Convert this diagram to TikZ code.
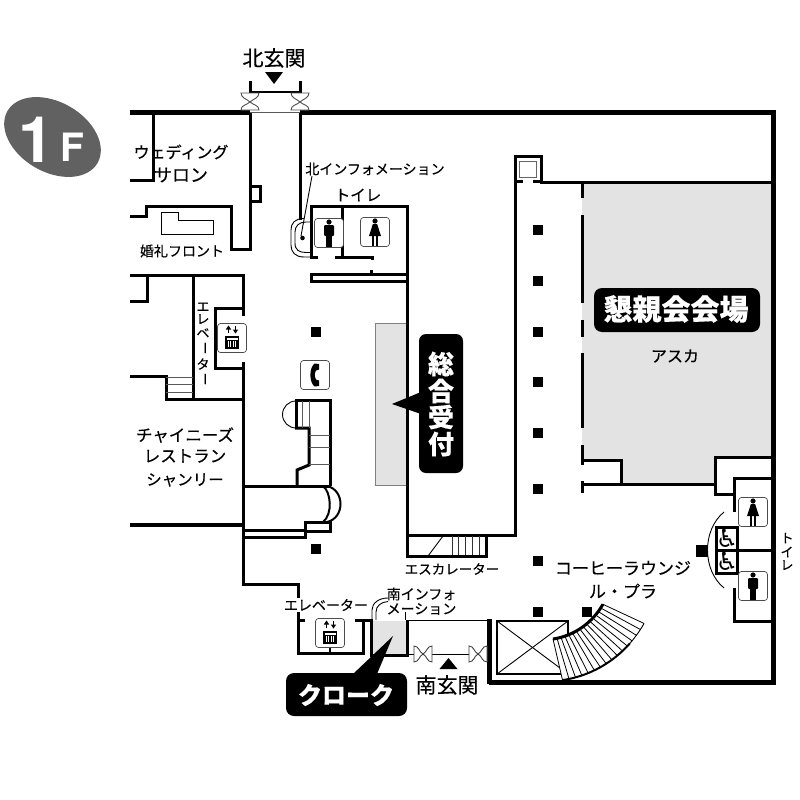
\documentclass[tikz,border=0pt]{standalone}
\usepackage{fontspec}
\setmainfont[FakeBold=0.35]{Noto Sans CJK JP}
\newfontfamily\bigfont{TeX Gyre Heros}
\newfontfamily\wcfont{DejaVu Sans}
\begin{document}
\begin{tikzpicture}[x=1pt,y=-1pt,
  wall/.style={line width=3pt,line cap=butt,line join=miter},
  fat/.style={line width=5pt,line cap=butt,line join=miter},
  thin/.style={line width=0.9pt},
  hair/.style={line width=0.7pt,draw=black!65},
  lbl/.style={inner sep=0pt,font=\fontsize{#1}{#1}\selectfont},
  wlbl/.style={inner sep=0pt,text=white,font=\fontsize{#1}{#1}\selectfont\bfseries},
  pillar/.style={fill=black,draw=none,minimum size=10pt,inner sep=0pt,shape=rectangle},
  iconbox/.style={draw=black!70,line width=0.7pt,fill=white,rounded corners=3pt,minimum size=29pt,inner sep=0pt,shape=rectangle},
  wc/.style={inner sep=0pt,font=\fontsize{25}{25}\selectfont\wcfont}]
\useasboundingbox (0,0) rectangle (800,800);
\fill[white] (0,0) rectangle (800,800);
% badge
\fill[black!62,rotate around={-30:(52.5,137)}] (52.5,137) ellipse [x radius=52,y radius=35];
\node[inner sep=0pt,text=white,font=\fontsize{64}{64}\selectfont\bigfont\bfseries] (bone) at (36,140) {1};
\node[inner sep=0pt,text=white,font=\fontsize{39}{39}\selectfont\bigfont\bfseries] (bf) at (72,147) {F};
% grey areas
\fill[black!11] (582,182) -- (773,182) -- (773,457) -- (716,457) -- (716,484) -- (621,484) -- (621,460) -- (582,460) -- cycle;
\filldraw[black!11,draw=black!50,line width=0.7pt] (407,323) -- (375,323) -- (375,485) -- (407,485);
\filldraw[black!11,draw=none] (371,621) rectangle (406,654);
% outer walls
\draw[fat] (130,112.5) -- (250,112.5);
\draw[fat] (300,112.5) -- (775,112.5);
\draw[fat] (773,110) -- (773,684.5);
\draw[fat] (489,682) -- (775,682);
\draw[fat] (489,619) -- (489,684);
% north entrance
\draw[wall] (250,81) -- (250,93);
\draw[wall] (300,81) -- (300,93);
\draw[line width=1.6pt] (250,92) -- (300,92);
\draw[hair] (250,112) -- (300,112);
\foreach \cx in {250,300}{
  \draw[thin,draw=black!70,fill=white] (\cx-9,93) -- (\cx+9,93) .. controls (\cx+9,98) and (\cx+3,99) .. (\cx,102) .. controls (\cx-3,99) and (\cx-9,98) .. (\cx-9,93) -- cycle;
  \draw[thin,draw=black!70,fill=white] (\cx-9,110) -- (\cx+9,110) .. controls (\cx+9,105) and (\cx+3,105) .. (\cx,102) .. controls (\cx-3,105) and (\cx-9,105) .. (\cx-9,110) -- cycle;
}
\fill (265,72) -- (283,72) -- (274,84) -- cycle;
\node[lbl=21] (kita) at (274,58) {北玄関};
% wedding area
\draw[wall] (153,113) -- (153,180) -- (130,180);
\draw[wall] (250,113) -- (250,249) -- (231,249) -- (231,206) -- (146,206) -- (146,216) -- (130,216);
\draw[wall] (250,186) -- (260,186) -- (260,201) -- (250,201);
\draw[thin] (161,212) -- (178,212) -- (178,220) -- (213,220) -- (213,234) -- (161,234) -- cycle;
\node[lbl=16] (wed1) at (181,152) {ウェディング};
\node[lbl=18] (wed2) at (181,175) {サロン};
\node[lbl=14] (front) at (182,251) {婚礼フロント};
% north toilets
\draw[wall] (300,113) -- (300,220);
\draw[wall] (311,257) -- (311,206) -- (407,206) -- (407,535) -- (515,535) -- (515,181);
\draw[wall] (342,206) -- (342,257);
\draw[wall] (310,257) -- (318,257);
\draw[wall] (335,257) -- (372,257) -- (372,260);
\fill (370,270) rectangle (373,273);
\draw[wall] (407,274.5) -- (311,274.5) -- (311,281) -- (407,281);
\draw[thin] (304,218.5) .. controls (295,218.5) and (291,223) .. (291,230) -- (291,245) .. controls (291,252) and (295,257) .. (304,257) -- (311,257);
\draw[thin] (311,222) -- (306,222) .. controls (299,222) and (295,226) .. (295,232) -- (295,243) .. controls (295,250) and (299,252.5) .. (306,252.5) -- (311,252.5);
\fill (302.5,238) circle (2.3);
\draw[thin] (301,236) -- (312,176);
\node[lbl=14] (ninfo) at (375,169) {北インフォメーション};
\node[lbl=15.5] (ntoi) at (358,195) {トイレ};
% left block
\draw[wall] (130,275) -- (243,275);
\draw[wall] (243,274) -- (243,316);
\draw[wall] (130,301) -- (147,301) -- (147,275);
\draw[wall] (193,275) -- (193,399);
\draw[wall] (243,308) -- (215,308) -- (215,368) -- (243,368);
\draw[wall] (243,362) -- (243,584) -- (298,584) -- (298,653) -- (363,653) -- (363,620);
\draw[wall] (130,376.5) -- (166,376.5) -- (166,399.5) -- (243,399.5);
\foreach \yy in {384,392}{\draw[hair] (166,\yy) -- (193,\yy);}
\draw[hair] (166,377) -- (193,377);
\draw[line width=4pt] (130,525) -- (243,525);
\node[lbl=16.5] (ch1) at (185,435) {チャイニーズ};
\node[lbl=16.5] (ch2) at (185,456) {レストラン};
\node[lbl=15.5] (ch3) at (185,480) {シャンリー};
% vertical elevator label
\node[lbl=13] (ve1) at (203,307) {エ};
\node[lbl=13] (ve2) at (203,319) {レ};
\node[lbl=13] (ve3) at (203,333) {ベ};
\node[lbl=13,rotate=-90] (ve4) at (203,348) {ー};
\node[lbl=13] (ve5) at (203,364) {タ};
\node[lbl=13,rotate=-90] (ve6) at (203,379) {ー};
% stairs centre
\draw[wall] (296,429) -- (296,400.5) -- (330,400.5) -- (330,486);
\draw[wall] (295,428) -- (309,428) -- (309,465) -- (297,470) -- (297,486);
\draw[thin] (296,401) arc[start angle=-90,end angle=-270,radius=13.5];
\foreach \xx in {302,309}{\draw[hair] (\xx,401) -- (\xx,428);}
\foreach \yy in {435,447,464}{\draw[hair] (309,\yy) -- (330,\yy);}
\draw[wall] (243,486) -- (331,486);
\draw[line width=2pt] (323,486) .. controls (331,492) and (333,514) .. (323,522);
\draw[line width=2pt] (327,486) .. controls (345,490) and (345,518) .. (327,522);
\draw[wall] (243,530) -- (305,530);
\draw[wall] (243,537.5) -- (305,537.5) -- (305,522) -- (330,522) -- (330,531) -- (305,531);
% reception
\fill (392,404) -- (421,392) -- (421,414) -- cycle;
\fill[rounded corners=7pt] (419,334) rectangle (463,473);
\node[wlbl=26] (r1) at (441,364) {総};
\node[wlbl=26] (r2) at (441,391) {合};
\node[wlbl=26] (r3) at (441,417) {受};
\node[wlbl=26] (r4) at (441,444) {付};
% escalator
\draw[wall] (407,535) -- (407,556) -- (486,556) -- (486,535);
\draw[thin] (428,556) -- (443,536);
\foreach \xx in {452,458,465,472,479}{\draw[hair,draw=black!80] (\xx,536) -- (\xx,555);}
\node[lbl=13.5] (esc) at (452,569) {エスカレーター};
% shaft top
\draw[wall] (515,181) -- (515,156) -- (541,156) -- (541,182);
\draw[wall] (514,181) -- (523,181);
\draw[wall] (533,181) -- (541,181);
\draw[line width=0.8pt,draw=black!60] (519,161) rectangle (536,177);
\draw[wall] (540,182) -- (775,182);
% banquet
\foreach \a/\b in {183/198,215/303,320/337,353/428,445/465,481/493}{\draw[wall] (582,\a) -- (582,\b);}
\draw[wall] (582,460) -- (621,460) -- (621,484);
\draw[wall] (582,484) -- (715,484);
\draw[wall] (775,457) -- (715,457) -- (715,494) -- (735,494);
\draw[wall] (734,512) -- (734,478) -- (775,478);
\draw[wall] (734,588) -- (734,621) -- (775,621);
\fill[rounded corners=8pt] (594,288) rectangle (760,332);
\node[wlbl=29] (ban) at (676,309) {懇親会会場};
\node[lbl=16] (asu) at (675,356) {アスカ};
% pillars
\foreach \px/\py [count=\i] in {316/332,316/549,538/230,538/281,538/332,538/382,538/433,538/489,538/561,538/612,587/612}{
  \node[pillar] (p\i) at (\px,\py) {};}
\node[pillar,minimum size=12pt] (pbig) at (702,551) {};
% right toilets
\draw[wall] (716,550) -- (775,550);
\draw[wall,fill=white] (716.5,527) rectangle (737,573);
\draw[wall] (716,550) -- (737,550);
\draw[thin] (724,512) .. controls (702,530) and (702,570) .. (724,588);
\node[wc] (w1) at (727,538.5) {♿};
\node[wc] (w2) at (727,561.5) {♿};
\node[lbl=13] (rt1) at (787,538) {ト};
\node[lbl=13] (rt2) at (787,552) {イ};
\node[lbl=13] (rt3) at (787,565) {レ};
% icons
\node[iconbox] (im1) at (329,233) {};
\node[iconbox] (iw1) at (375,232) {};
\node[iconbox] (iw2) at (753,512) {};
\node[iconbox] (im2) at (753,586) {};
\foreach \n in {im1,im2}{
  \begin{scope}[shift={(\n.center)}]
  \fill (0,-11) circle (2.6);
  \fill[rounded corners=1pt] (-5,-7.8) rectangle (5,3);
  \fill (-3.2,2) rectangle (-.4,13.5);
  \fill (.4,2) rectangle (3.2,13.5);
  \end{scope}}
\foreach \n in {iw1,iw2}{
  \begin{scope}[shift={(\n.center)}]
  \fill (0,-11) circle (2.6);
  \fill (-2.2,-7.8) -- (2.2,-7.8) -- (6,4) -- (-6,4) -- cycle;
  \fill (-2.8,3) rectangle (-.6,13.5);
  \fill (.6,3) rectangle (2.8,13.5);
  \end{scope}}
\draw[line width=1.5pt] (330,645) -- (330,653);
\node[iconbox] (el1) at (232,338) {};
\node[iconbox] (el2) at (330,633) {};
\foreach \n in {el1,el2}{
  \begin{scope}[shift={(\n.center)}]
  \draw[line width=1.2pt] (-3.5,-5) -- (-3.5,-9);
  \fill (-3.5,-12.5) -- (-6.2,-8.5) -- (-.8,-8.5) -- cycle;
  \draw[line width=1.2pt] (3.5,-12) -- (3.5,-8);
  \fill (3.5,-4.5) -- (6.2,-8.5) -- (.8,-8.5) -- cycle;
  \fill (-7,-2.5) rectangle (7,11);
  \fill[white] (-5.5,0) rectangle (5.5,1.5);
  \foreach \q in {-4.5,-2,.5,3}{\fill[white] (\q,3) rectangle (\q+1,9);}
  \end{scope}}
\node[iconbox] (ph) at (315,375) {};
\begin{scope}[shift={(ph.center)}]
\fill (-.5,-11.5) .. controls (-6,-7) and (-6,7) .. (-.5,11.5) -- (4,11) -- (4,5.5) -- (1,4.5) .. controls (-.6,2) and (-.6,-2) .. (1,-4.5) -- (4,-5.5) -- (4,-11) -- cycle;
\end{scope}
% south
\draw[wall] (298,620) -- (305,620);
\draw[wall] (355,620) -- (373,620);
\draw[wall] (371.5,619) -- (371.5,655) -- (407,655) -- (407,620);
\draw[thin] (408,620) -- (488,620);
\draw[thin] (408,654) -- (488,654);
\foreach \cx in {423,478}{
  \draw[thin,draw=black!75,fill=white] (\cx-9,646) -- (\cx-9,662) .. controls (\cx-4,662) and (\cx-4,656) .. (\cx,654) .. controls (\cx-4,652) and (\cx-4,646) .. (\cx-9,646) -- cycle;
  \draw[thin,draw=black!75,fill=white] (\cx+9,646) -- (\cx+9,662) .. controls (\cx+4,662) and (\cx+4,656) .. (\cx,654) .. controls (\cx+4,652) and (\cx+4,646) .. (\cx+9,646) -- cycle;
}
\fill (439.5,669) -- (457.5,669) -- (448.5,658) -- cycle;
\node[lbl=21] (minami) at (447,685) {南玄関};
\draw[thin] (372,620) -- (372,610) .. controls (372,603) and (379,598) .. (388,598);
\draw[thin] (376,620) -- (376,612) .. controls (376,606) and (381,602) .. (388,601.5);
\draw[thin] (405,612) -- (405,620);
\node[lbl=14] (sinfo1) at (421.5,594) {南インフォ};
\node[lbl=14] (sinfo2) at (421.5,609) {メーション};
\node[lbl=14,fill=white,inner ysep=1pt] (selev) at (326,605) {エレベーター};
\fill (393,636) -- (353,674) -- (377,674) -- cycle;
\fill[rounded corners=8pt] (286,673) rectangle (407,716);
\node[wlbl=24] (clk) at (346,695) {クローク};
% box
\draw[line width=1.4pt] (497,621) rectangle (568,674);
\draw[thin] (497,621) -- (568,674);
\draw[thin] (497,674) -- (568,621);
% curved stair
\def\Cx{538}\def\Cy{574}
\fill[white] plot[domain=25:77,samples=30] ({\Cx+(71.6-(\x-25)/52*4.9)*cos(\x)},{\Cy+(71.6-(\x-25)/52*4.9)*sin(\x)}) -- plot[domain=77:25,samples=30] ({\Cx+(117-(\x-25)/52*8.1)*cos(\x)},{\Cy+(117-(\x-25)/52*8.1)*sin(\x)}) -- cycle;
\foreach \t in {0,1,...,15}{
  \pgfmathsetmacro{\aa}{25+\t*52/15}
  \pgfmathsetmacro{\ri}{71.6-(\aa-25)/52*4.9}
  \pgfmathsetmacro{\ro}{117-(\aa-25)/52*8.1}
  \draw[line width=0.8pt] ({\Cx+\ri*cos(\aa)},{\Cy+\ri*sin(\aa)}) -- ({\Cx+\ro*cos(\aa)},{\Cy+\ro*sin(\aa)});
}
\draw[wall] plot[domain=25:77,samples=30] ({\Cx+(71.6-(\x-25)/52*4.9)*cos(\x)},{\Cy+(71.6-(\x-25)/52*4.9)*sin(\x)});
\draw[line width=2pt] plot[domain=37:77,samples=30] ({\Cx+(117-(\x-25)/52*8.1)*cos(\x)},{\Cy+(117-(\x-25)/52*8.1)*sin(\x)});
\draw[thin] plot[domain=25:37,samples=8] ({\Cx+(117-(\x-25)/52*8.1)*cos(\x)},{\Cy+(117-(\x-25)/52*8.1)*sin(\x)});
\node[lbl=17] (cof1) at (623,568) {コーヒーラウンジ};
\node[lbl=17] (cof2) at (623,591) {ル・プラ};
\end{tikzpicture}
\end{document}
